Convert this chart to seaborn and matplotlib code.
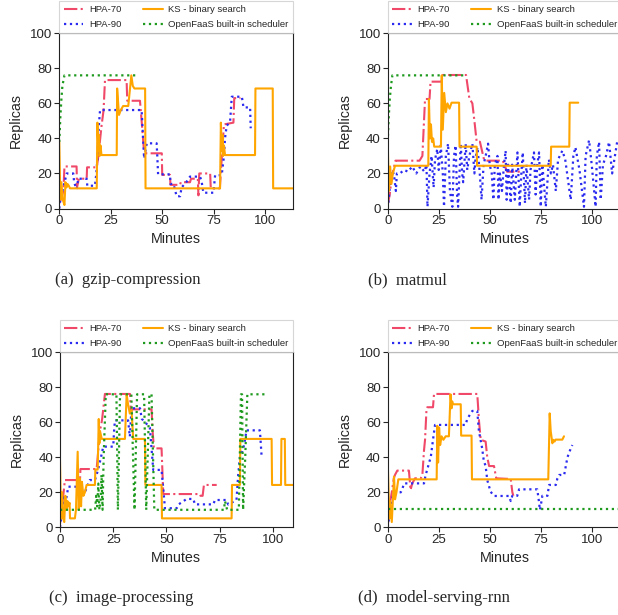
import matplotlib
matplotlib.use("Agg")
import matplotlib.pyplot as plt
import seaborn as sns
import pandas as pd

# ---------------- data ----------------
# (a) gzip-compression
a_hpa70_x = [0, 1, 2, 2.5, 8.4, 8.6, 9.5, 13.3, 13.5, 18.2, 19, 20.5, 21.5, 22.2, 32.7, 33, 39.2, 40, 41, 42, 49.8, 50, 53.8, 54, 58.7, 59, 63.5, 64, 67.3, 67.6, 68, 73.3, 73.6, 78, 79, 80, 84.6, 85, 88]
a_hpa70_y = [3, 6, 10, 24, 24, 12, 17, 17, 23.5, 23.5, 30, 47, 56, 73.3, 73.3, 61.5, 61.5, 50, 35, 31.5, 31.5, 19.2, 19.2, 13.5, 13.5, 15, 15, 17, 17, 7.5, 20, 20, 11.5, 11.5, 30, 48, 49, 63, 63]
a_hpa90_x = [0, 0.5, 1.5, 3.6, 6.8, 7.2, 8.4, 9.2, 10, 13.3, 13.6, 17.3, 18, 18.6, 19.2, 19.8, 40, 41.2, 42.5, 47.3, 47.6, 48, 53.8, 54, 55.5, 57, 58.7, 59.4, 61.7, 63.5, 68.4, 69.2, 70, 74.9, 75.7, 78.9, 80, 80.5, 81.3, 83, 83.8, 88.7, 89.5, 92.7, 93]
a_hpa90_y = [0, 5, 10, 20, 20, 15, 11, 17, 17, 17, 13, 13, 20, 30, 47, 56.2, 56.2, 28.6, 37.2, 37.2, 30, 19.5, 19.5, 14, 14, 7, 7, 12, 15, 18.2, 18.2, 15, 9, 9, 19, 19, 30, 40, 47, 50, 63.8, 63.8, 57.7, 57.7, 45.8]
a_ks_x = [0, 0.5, 1, 1.7, 2.5, 3, 3.5, 4, 4.6, 5.2, 18.2, 18.5, 19, 19.3, 19.6, 20, 20.5, 27.9, 28.1, 29, 29.8, 31, 33.5, 35, 35.7, 36.5, 41.7, 41.9, 78.1, 78.5, 79, 79.3, 79.6, 80, 80.5, 95.1, 95.3, 103.7, 103.9, 114]
a_ks_y = [38, 5, 15, 5, 2, 15, 12, 14, 13, 11.5, 11.5, 49, 33, 42, 30, 36, 30.5, 30.5, 68.5, 53.4, 56, 58.5, 58.5, 76, 70, 68.5, 68.5, 11.5, 11.5, 49, 33, 42, 30, 36, 30.5, 30.5, 68.5, 68.5, 11.5, 11.5]
a_ofs_x = [0, 0.5, 1, 1.5, 2.5, 38.5]
a_ofs_y = [38, 52, 62, 70, 76, 76]

# (b) matmul
b_hpa70_x = [0, 1, 2, 3.8, 15.6, 17, 17.8, 18.3, 20.5, 21, 26.4, 27, 38.4, 40, 41.5, 42.5, 43.6, 45.2, 47.2, 47.7, 56.4, 57.5, 58.5, 64.9]
b_hpa70_y = [2, 8, 18, 27.3, 27.3, 30, 50, 62.5, 62.5, 72.4, 72.4, 76.2, 76.2, 63, 60, 50, 38.1, 38.1, 28, 27.3, 27.3, 24, 21, 21]
b_hpa90_x = [0, 0.5, 1, 1.5, 2, 3, 4, 4.5, 6, 8, 10, 12, 14, 16, 18, 19, 19.5, 20.5, 21.5, 22.5, 23.2, 24.3, 25, 26, 27, 27.6, 28.5, 29.6, 30.5, 31.7, 32.5, 33.3, 34, 34.5, 35.8, 36.5, 37, 38.2, 39, 40, 41.5, 42.5, 43, 44, 45, 46, 47, 48, 49.2, 50, 51, 51.8, 52.5, 53.8, 54.3, 55, 56, 57, 57.8, 58.3, 59, 60.3, 61, 62.3, 63, 63.6, 64.7, 65.5, 66.2, 67.3, 68, 69.3, 70, 71.7, 72.5, 73.3, 74.2, 75, 75.8, 77.5, 79, 80, 81, 82.4, 83.5, 85.6, 87, 89.7, 91, 92, 94, 96.2, 97, 98.7, 100, 101.9, 102.5, 103.6, 104.4, 105.5, 107, 108.5, 110, 112.6, 114]
b_hpa90_y = [0, 5, 12, 18, 20, 20, 10, 20, 20, 22, 21, 24, 20, 24, 21, 25, 1, 20, 30, 12, 28, 34, 22, 36, 20, 1, 30, 37, 10, 1, 30, 36, 8, 1, 37, 20, 15, 37, 22, 30, 37, 20, 28, 35, 22, 5, 25, 30, 37, 25, 20, 5, 25, 30, 5, 20, 10, 25, 33, 5, 25, 3, 25, 5, 20, 32, 1, 20, 32, 3, 25, 5, 22, 32, 8, 25, 32, 1, 25, 1, 28, 20, 25, 10, 28, 33, 28, 5, 30, 35, 22, 1, 30, 39, 25, 1, 30, 38, 5, 25, 30, 38, 20, 39, 39]
b_ks_x = [0, 0.6, 1.2, 1.8, 2.5, 3, 3.6, 19.9, 20.2, 20.7, 21.2, 21.7, 22.3, 22.8, 26.1, 26.5, 27, 27.7, 28.5, 29.3, 30.3, 31.3, 35, 35.2, 43.6, 43.8, 79.9, 80.1, 89, 89.2, 93.4]
b_ks_y = [38, 10, 24, 14, 20, 22, 24.4, 24.4, 62.5, 40, 48, 38, 40, 35.3, 35.3, 76, 45, 66, 55, 60, 57, 60.4, 60.4, 35.3, 35.3, 24.4, 24.4, 35.3, 35.3, 60.4, 60.4]
b_ofs_x = [0, 0.5, 1, 1.6, 2.3, 38.3]
b_ofs_y = [38, 52, 62, 70, 76, 76]

# (c) image-processing
c_hpa70_x = [0, 1, 2.3, 9.4, 9.6, 17.2, 17.7, 18.8, 19.3, 19.8, 21.1, 32.9, 33.2, 43, 43.5, 44.1, 47.7, 48.5, 65.7, 66, 67, 67.6, 73.6]
c_hpa70_y = [2, 12, 27, 27, 33.3, 33.3, 40, 56, 58, 62, 76.2, 76.2, 67.4, 67.4, 55, 45.1, 45.1, 19, 19, 18, 18, 24.2, 24.2]
c_hpa90_x = [0, 1, 1.6, 2.3, 3.9, 7.8, 8.2, 9.4, 10.2, 11.7, 13.3, 14, 16.4, 17.2, 18.3, 19.6, 20.3, 25, 25.4, 25.8, 32, 32.8, 33.6, 37.6, 38.4, 40, 42.2, 43.8, 47.7, 48.5, 49.3, 54.8, 55.6, 59.5, 62.6, 63.4, 72, 72.8, 78.2, 79, 82.9, 83.7, 84.5, 86.1, 86.9, 87.6, 93.9, 94.7]
c_hpa90_y = [0, 10, 17, 12, 23.2, 23.2, 20, 25, 18, 20, 25, 27, 27, 30, 35, 42, 46.1, 46.1, 55, 61.1, 61.1, 51.8, 68, 68, 62, 60, 57, 32.8, 32.8, 22, 10.9, 10.9, 13, 16.2, 16.2, 13.1, 13.1, 15.6, 15.6, 13, 15.6, 30, 40, 45, 50, 55.4, 55.4, 40.4]
c_ks_x = [0, 0.5, 1, 1.5, 2, 2.5, 3, 3.5, 4, 4.5, 4.7, 7, 7.5, 8.3, 8.8, 9.4, 9.9, 10.3, 11, 11.7, 12.5, 16.4, 16.6, 17.7, 18.2, 18.5, 18.8, 19.6, 30.5, 31.3, 32, 32.8, 33.6, 34.4, 39.9, 40.1, 47.7, 47.9, 80.6, 80.8, 84.5, 84.7, 99.4, 99.6, 103.8, 104, 105.6, 105.8, 110]
c_ks_y = [38, 5, 20, 5, 3, 18, 10, 15, 12, 14, 5.1, 5.1, 10, 43.2, 10, 28, 12, 26, 18, 20, 24.2, 24.2, 33, 33, 61.9, 48, 55, 50.5, 50.5, 76, 70, 65, 67, 50.5, 50.5, 24.2, 24.2, 5.1, 5.1, 24.2, 24.2, 50.5, 50.5, 24.2, 24.2, 50.5, 50.5, 24.2, 24.2]
c_ofs_x = [0, 16.5, 17, 17.5, 18, 18.5, 19, 19.5, 20, 20.5, 21.5, 26.5, 27.2, 28.2, 33.5, 35, 36.2, 39.5, 40.5, 42, 43, 44.3, 77, 77.5, 78.5, 84, 85, 85.5, 86, 87, 88, 97.5]
c_ofs_y = [10, 10, 18, 12, 25, 10, 15, 30, 10, 40, 76, 76, 10, 76, 76, 10, 76, 76, 10, 76, 76, 10, 10, 15, 10, 10, 76, 76, 10, 40, 76, 76]

# (d) model-serving-rnn
d_hpa70_x = [0, 0.7, 1.3, 2, 3, 3.6, 4.7, 10.4, 11.2, 12, 13.4, 16.2, 17, 17.8, 18.3, 19, 19.4, 22.2, 22.7, 43.9, 44.8, 45.6, 48, 48.8, 49.7, 52.1, 53.2, 60.3, 61.1, 61.6]
d_hpa70_y = [1, 8, 15, 20, 28, 30, 32.4, 32.4, 21.3, 25, 28, 28, 30, 44, 50, 67, 68.6, 68.6, 76.2, 76.2, 60, 50, 49, 40, 35, 35, 28, 27.6, 20, 18]
d_hpa90_x = [0, 0.6, 1.3, 2, 3.1, 6.4, 7.2, 8, 17.8, 18.6, 19.4, 20.3, 21.1, 22.2, 23.2, 38.2, 39, 41.5, 43.9, 44.7, 46.3, 47.1, 48, 48.8, 50.4, 52.1, 59.5, 60.3, 61.1, 63.5, 64.4, 73.3, 74.1, 74.6, 75.4, 75.8, 78.3, 79.1, 82.4, 83.2, 84, 86.5, 88.1, 89.7, 90.5]
d_hpa90_y = [0, 5, 10, 15, 20, 20, 22, 25.1, 25.1, 30, 33, 37, 40, 50, 58.5, 58.5, 62, 66.5, 66.5, 55, 45.1, 38, 35, 27, 20.4, 17.9, 17.9, 15, 18, 18, 21.7, 21.7, 15, 9.9, 15, 18, 18, 24.2, 24.2, 28, 29.9, 29.9, 40, 45, 47]
d_ks_x = [0, 0.8, 1.2, 2, 3.1, 3.6, 4.3, 5.2, 24, 24.3, 24.7, 25.2, 25.7, 26.4, 27.3, 28.4, 30, 30.8, 31.3, 31.6, 32, 35.8, 36, 41.1, 41.3, 78.7, 79.4, 79.9, 80.7, 81.2, 81.8, 82.3, 85.6, 86.4]
d_ks_y = [38, 5, 15, 3, 29, 16, 20, 27.4, 27.4, 58, 37, 57, 47, 52, 50, 52, 52, 76, 68, 72, 70.3, 70.3, 52.4, 52.4, 27.4, 27.4, 65.1, 55, 48, 50, 49, 50.1, 50.1, 52]
d_ofs_x = [0, 115]
d_ofs_y = [10.3, 10.3]

panels = [
    ("a", "gzip-compression", a_hpa70_x, a_hpa70_y, a_hpa90_x, a_hpa90_y, a_ks_x, a_ks_y, a_ofs_x, a_ofs_y),
    ("b", "matmul", b_hpa70_x, b_hpa70_y, b_hpa90_x, b_hpa90_y, b_ks_x, b_ks_y, b_ofs_x, b_ofs_y),
    ("c", "image-processing", c_hpa70_x, c_hpa70_y, c_hpa90_x, c_hpa90_y, c_ks_x, c_ks_y, c_ofs_x, c_ofs_y),
    ("d", "model-serving-rnn", d_hpa70_x, d_hpa70_y, d_hpa90_x, d_hpa90_y, d_ks_x, d_ks_y, d_ofs_x, d_ofs_y),
]
series_names = ["HPA-70", "HPA-90", "KS - binary search", "OpenFaaS built-in scheduler"]
x_ticks = [0, 25, 50, 75, 100]
y_ticks = [0, 20, 40, 60, 80, 100]

# ---------------- style ----------------
sns.set_theme(style="ticks")
plt.rcParams["font.family"] = ["Liberation Sans", "DejaVu Sans"]

styles = {
    "HPA-70": dict(color="#f04868", linestyle="-.", linewidth=1.5),
    "HPA-90": dict(color="#2a2af0", linestyle=":", linewidth=1.6),
    "KS - binary search": dict(color="#ffa500", linestyle="-", linewidth=1.5),
    "OpenFaaS built-in scheduler": dict(color="#1e9a1e", linestyle=":", linewidth=1.6),
}

W, H = 618, 615
fig = plt.figure(figsize=(W / 100, H / 100), dpi=100)

# axes rectangles in pixels: left, top(y=100), right, bottom(y=0)
rects = {
    "a": (59.3, 33.3, 292.7, 208.5),
    "b": (387.7, 33.3, 621.1, 208.5),
    "c": (60.0, 352.3, 292.7, 527.3),
    "d": (387.7, 352.3, 621.1, 527.3),
}
xmax = {"a": 113.4, "b": 114.4, "c": 109.3, "d": 114.4}
captions = {"a": (55, 280), "b": (368, 280), "c": (49, 598), "d": (358, 598)}

for key, title, h7x, h7y, h9x, h9y, ksx, ksy, ofx, ofy in panels:
    l, t, r, b = rects[key]
    ax = fig.add_axes([l / W, 1 - b / H, (r - l) / W, (b - t) / H])
    data = [(h7x, h7y), (h9x, h9y), (ksx, ksy), (ofx, ofy)]
    for name, (xs, ys) in zip(series_names, data):
        df = pd.DataFrame({"Minutes": xs, "Replicas": ys})
        sns.lineplot(data=df, x="Minutes", y="Replicas", ax=ax, sort=False,
                     estimator=None, label=name, **styles[name])
    ax.set_xlim(0, xmax[key])
    ax.set_ylim(0, 100)
    ax.set_xticks(x_ticks)
    ax.set_yticks(y_ticks)
    ax.tick_params(labelsize=9.5, length=3.5, width=0.8, pad=1.5)
    ax.set_xlabel("Minutes", fontsize=10.3, labelpad=3.5)
    ax.set_ylabel("Replicas", fontsize=10.3, labelpad=5)
    for s in ax.spines.values():
        s.set_linewidth(0.8)
        s.set_color("#222222")
    leg = ax.legend(loc="lower left", bbox_to_anchor=(0, 1.0, 1, 0.183), mode="expand",
                    ncol=2, borderaxespad=0, fontsize=6.8, handlelength=2.1,
                    frameon=True, fancybox=False, edgecolor="#cccccc",
                    columnspacing=1.0, handletextpad=0.6, labelspacing=0.62,
                    borderpad=0.45)
    leg.get_frame().set_linewidth(0.8)
    cx, cy = captions[key]
    fig.text(cx / W, 1 - cy / H, f"({key})  {title}", fontsize=12,
             family=["Liberation Serif", "DejaVu Serif"], ha="left", va="center")

fig.savefig("out.png", dpi=100)
